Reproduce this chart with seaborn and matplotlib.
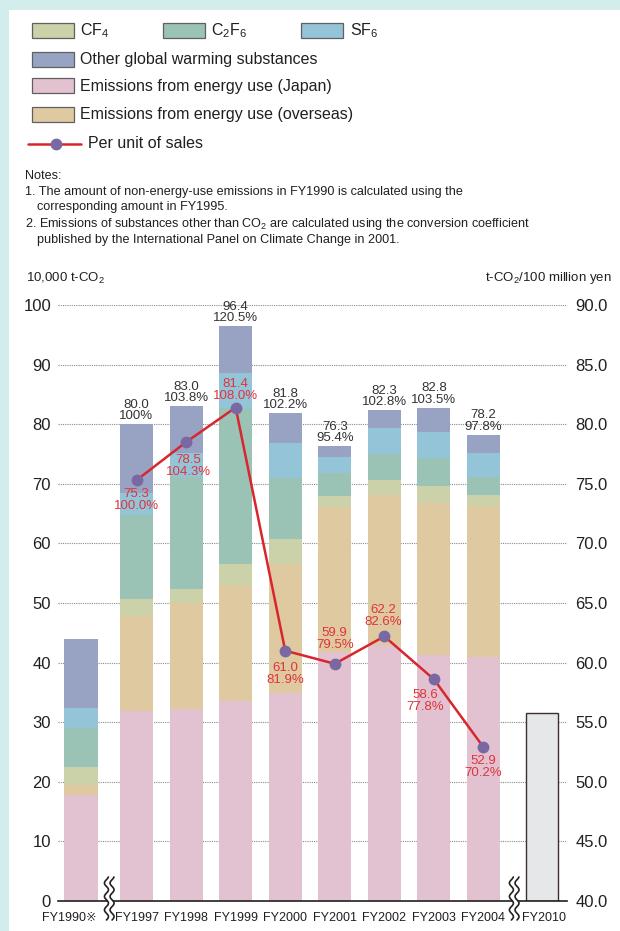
import numpy as np
import pandas as pd
import matplotlib
matplotlib.use("Agg")
import matplotlib.pyplot as plt
from matplotlib.patches import Rectangle, Polygon
from matplotlib.lines import Line2D
from matplotlib.transforms import IdentityTransform
import seaborn as sns

# ---------------- data ----------------
years = ["FY1990※", "FY1997", "FY1998", "FY1999", "FY2000",
         "FY2001", "FY2002", "FY2003", "FY2004"]
target_year = "FY2010"

# emissions by source, 10,000 t-CO2 (stacked bottom to top)
japan    = [17.8, 31.8, 32.2, 33.6, 34.9, 41.7, 42.9, 41.3, 41.0]
overseas = [1.6, 16.1, 17.8, 19.4, 21.7, 24.4, 25.2, 25.5, 25.2]
cf4      = [3.1, 2.8, 2.4, 3.5, 4.1, 1.8, 2.5, 2.8, 1.9]
c2f6     = [6.6, 14.1, 18.8, 26.3, 10.2, 3.9, 4.4, 4.7, 3.0]
sf6      = [3.3, 3.6, 3.9, 5.8, 6.0, 2.7, 4.3, 4.4, 4.0]
other    = [11.5, 11.6, 7.9, 7.8, 4.9, 1.8, 3.0, 4.1, 3.1]
target_2010 = 31.6

total_labels = ["80.0", "83.0", "96.4", "81.8", "76.3", "82.3", "82.8", "78.2"]
total_pct    = ["100%", "103.8%", "120.5%", "102.2%", "95.4%", "102.8%", "103.5%", "97.8%"]

# emissions per unit of sales, t-CO2/100 million yen (FY1997-FY2004)
per_unit     = [75.3, 78.5, 81.4, 61.0, 59.9, 62.2, 58.6, 52.9]
per_unit_pct = ["100.0%", "104.3%", "108.0%", "81.9%", "79.5%", "82.6%", "77.8%", "70.2%"]

layer_names = ["Emissions from energy use (Japan)", "Emissions from energy use (overseas)",
               "CF4", "C2F6", "SF6", "Other global warming substances"]
layer_values = [japan, overseas, cf4, c2f6, sf6, other]
layer_colors = ["#e2c1d0", "#dfc9a1", "#cbd1a8", "#9bc3b5", "#94c4d8", "#98a3c4"]

# ---------------- style ----------------
sns.set_style("white")
plt.rcParams["font.family"] = ["Liberation Sans", "DejaVu Sans", "Noto Sans CJK JP"]
TXT = "#231f20"
RED = "#d9262e"
PURPLE = "#7a68a2"
TEAL = "#d3ecec"

W, H = 620, 931
fig = plt.figure(figsize=(W / 100, H / 100), dpi=100)
fig.patch.set_facecolor("white")


def fx(px):
    return px / W


def fy(py):
    return 1 - py / H


# framing strips
fig.add_artist(Rectangle((0, 0), fx(9), 1, transform=fig.transFigure,
                         facecolor=TEAL, edgecolor="none", zorder=-5))
fig.add_artist(Rectangle((0, fy(10)), 1, 1 - fy(10), transform=fig.transFigure,
                         facecolor=TEAL, edgecolor="none", zorder=-5))

# ---------------- axes ----------------
ax = fig.add_axes([fx(58), 30 / H, (567 - 58) / W, 596 / H])
ax.set_facecolor("none")

# bar slots: a wider gap on either side of the axis breaks
pos = np.array([-1.12, 0, 1, 2, 3, 4, 5, 6, 7], dtype=float)
pos_2010 = 8.18
bar_w = 0.666

cum = np.cumsum(np.array(layer_values), axis=0)
df = pd.DataFrame({"pos": pos})
for i in reversed(range(len(layer_names))):
    df["top"] = cum[i]
    sns.barplot(data=df, x="pos", y="top", native_scale=True, orient="x",
                color=layer_colors[i], saturation=1, width=bar_w,
                errorbar=None, linewidth=0, ax=ax, zorder=2)

sns.barplot(x=[pos_2010], y=[target_2010], native_scale=True, orient="x",
            color="#e6e7e8", saturation=1, width=0.65, errorbar=None,
            edgecolor="#3b2f30", linewidth=1.0, ax=ax, zorder=2)

ax.set_xlim(-1.584, 8.685)
ax.set_ylim(0, 100)
ax.set_yticks(np.arange(0, 101, 10))
ax.set_yticklabels([str(v) for v in range(0, 101, 10)])
ax.set_xlabel("")
ax.set_ylabel("")

tick_pos = list(pos) + [pos_2010 + 0.05]
tick_pos[0] = -1.36
ax.set_xticks(tick_pos)
ax.set_xticklabels(years + [target_year])
ax.tick_params(axis="x", length=0, pad=8, labelsize=9, colors=TXT)
ax.tick_params(axis="y", length=0, pad=5, labelsize=12, colors=TXT)

ax.grid(axis="y", linestyle=(0, (1, 1)), color="#8a8a8a", linewidth=0.8, zorder=0)
ax.grid(axis="x", visible=False)
ax.set_axisbelow(True)
for s in ["left", "right", "top"]:
    ax.spines[s].set_visible(False)
ax.spines["bottom"].set_color(TXT)
ax.spines["bottom"].set_linewidth(1.2)

# totals above the stacked bars
for x, tot, lab, pct in zip(pos[1:], cum[-1][1:], total_labels, total_pct):
    ax.annotate(lab, (x, tot), xytext=(0, 19.5), textcoords="offset pixels",
                ha="center", va="center", fontsize=9.5, color="#333333")
    ax.annotate(pct, (x, tot), xytext=(0, 8), textcoords="offset pixels",
                ha="center", va="center", fontsize=9.5, color="#333333")

# ---------------- per-unit line ----------------
ax2 = ax.twinx()
sns.lineplot(x=pos[1:], y=per_unit, ax=ax2, color=RED, linewidth=1.8,
             marker="o", markersize=8.5, markerfacecolor=PURPLE,
             markeredgewidth=0, zorder=5)
ax2.set_ylim(40, 90)
ax2.set_yticks(np.arange(40, 91, 5))
ax2.set_yticklabels([f"{v:.1f}" for v in np.arange(40, 91, 5)])
ax2.tick_params(axis="y", length=0, pad=6, labelsize=12, colors=TXT)
ax2.set_ylabel("")
ax2.grid(False)
for s in ax2.spines.values():
    s.set_visible(False)
ax.set_xlim(-1.584, 8.685)

label_dy = [14, 18, -24, 17, -31, -26, 16, 14]
label_dx = [0, 2, 0, 0, 0, -1, -9, 0]
for x, v, pct, dy, dx in zip(pos[1:], per_unit, per_unit_pct, label_dy, label_dx):
    ax2.annotate(f"{v:.1f}", (x, v), xytext=(dx, -dy), textcoords="offset pixels",
                 ha="center", va="center", fontsize=9.5, color="#e0343c", zorder=6)
    ax2.annotate(pct, (x, v), xytext=(dx, -dy - 12), textcoords="offset pixels",
                 ha="center", va="center", fontsize=9.5, color="#e0343c", zorder=6)

# ---------------- axis-break marks ----------------
def axis_break(xdata):
    x0, y0 = ax.transData.transform((xdata, 0))
    t = np.linspace(0, 1, 80)
    ys = y0 - 19 + t * 43
    wave = 2.0 * np.sin(t * 2 * np.pi * 3.2)
    left = x0 - 2.8 + wave
    right = x0 + 2.8 + wave
    poly = np.column_stack([np.concatenate([left, right[::-1]]),
                            np.concatenate([ys, ys[::-1]])])
    fig.add_artist(Polygon(poly, closed=True, transform=IdentityTransform(),
                           facecolor="white", edgecolor="none", zorder=8))
    for xs in (left, right):
        fig.add_artist(Line2D(xs, ys, transform=IdentityTransform(),
                              color=TXT, linewidth=1.2, zorder=9))


axis_break(-0.55)
axis_break(7.62)

# ---------------- legend ----------------
def legend_patch(px, py, color, text):
    fig.add_artist(Rectangle((fx(px), fy(py + 14.5)), 42.5 / W, 14.5 / H,
                             transform=fig.transFigure, facecolor=color,
                             edgecolor="#606060", linewidth=0.9))
    fig.text(fx(px + 48.5), fy(py + 7.5), text, ha="left", va="center",
             fontsize=11.5, color=TXT)


legend_patch(31.7, 23.3, layer_colors[2], r"CF$_{\mathregular{4}}$")
legend_patch(162.7, 23.3, layer_colors[3], r"C$_{\mathregular{2}}$F$_{\mathregular{6}}$")
legend_patch(301, 23.3, layer_colors[4], r"SF$_{\mathregular{6}}$")
legend_patch(31.7, 52, layer_colors[5], layer_names[5])
legend_patch(31.7, 78.5, layer_colors[0], layer_names[0])
legend_patch(31.7, 107, layer_colors[1], layer_names[1])

fig.add_artist(Line2D([fx(28), fx(81)], [fy(144), fy(144)], transform=fig.transFigure,
                      color=RED, linewidth=1.8))
fig.add_artist(Line2D([fx(55.7)], [fy(144)], transform=fig.transFigure,
                      marker="o", markersize=8.5, markerfacecolor=PURPLE,
                      markeredgewidth=0, linestyle="none"))
fig.text(fx(88), fy(144), "Per unit of sales", ha="left", va="center",
         fontsize=11.5, color=TXT)

# ---------------- notes and units ----------------
notes = [
    (25, 176, "Notes:"),
    (25, 192, "1. The amount of non-energy-use emissions in FY1990 is calculated using the"),
    (37, 207, "corresponding amount in FY1995."),
    (25, 224, r"2. Emissions of substances other than CO$_{\mathregular{2}}$ are calculated using the conversion coefficient"),
    (37, 240, "published by the International Panel on Climate Change in 2001."),
]
for px, py, s in notes:
    fig.text(fx(px), fy(py), s, ha="left", va="center", fontsize=9.1, color=TXT)

fig.text(fx(26), fy(278), r"10,000 t-CO$_{\mathregular{2}}$", ha="left", va="center",
         fontsize=9.5, color=TXT)
fig.text(fx(612), fy(278), r"t-CO$_{\mathregular{2}}$/100 million yen", ha="right",
         va="center", fontsize=9.5, color=TXT)

fig.savefig("out.png", dpi=100)
